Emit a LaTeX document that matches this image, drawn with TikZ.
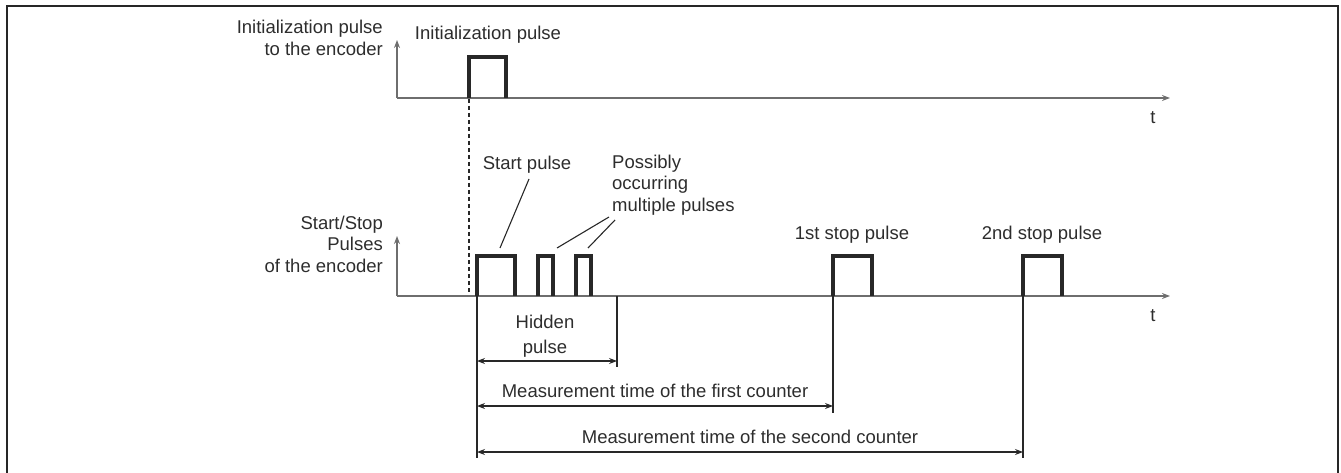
\documentclass[tikz,border=0pt]{standalone}
\usepackage{fontspec}
\setmainfont{Liberation Sans}
\usetikzlibrary{arrows.meta}
\definecolor{axisgray}{RGB}{110,110,110}
\definecolor{pulsedark}{RGB}{40,40,40}
\definecolor{txt}{RGB}{45,45,45}
\tikzset{
  axis/.style={draw=axisgray, line width=1.6pt, -{Stealth[length=8pt,width=6pt]}},
  pulse/.style={draw=pulsedark, line width=3.2pt, line join=miter},
  guide/.style={draw=pulsedark, line width=1.1pt},
  dim/.style={draw=pulsedark, line width=1.1pt, {Stealth[length=8pt,width=6pt]}-{Stealth[length=8pt,width=6pt]}},
  leader/.style={draw=pulsedark, line width=1.1pt},
  lbl/.style={inner sep=0pt, text=txt, font=\fontsize{18.5}{21.5}\selectfont},
}
\begin{document}
\begin{tikzpicture}[x=1pt,y=-1pt]
\useasboundingbox (0,0) rectangle (1341,473);
% frame
\draw[draw=black!85, line width=1.6pt] (7,473) -- (7,6) -- (1338,6) -- (1338,473);

% ---- upper diagram: initialization pulse
\coordinate (o1) at (397,98);
\coordinate (y1) at (397,40);
\coordinate (x1) at (1170,98);
\draw[axis] (o1) -- (y1);
\draw[axis] (o1) -- (x1);
\node[lbl] (t1) at (1153,118) {t};
\draw[pulse] (469,98) -- (469,57) -- (506,57) -- (506,98);
\node[lbl, align=right, anchor=east] (ylab1) at (383,38) {Initialization pulse\\to the encoder};
\node[lbl] (initlab) at (488,35) {Initialization pulse};
\coordinate (d1) at (469,99);
\coordinate (d2) at (469,296);
\draw[guide, dashed, dash pattern=on 4pt off 3pt] (d1) -- (d2);

% ---- lower diagram: start/stop pulses
\coordinate (o2) at (397,296);
\coordinate (y2) at (397,236);
\coordinate (x2) at (1170,296);
\draw[axis] (o2) -- (y2);
\draw[axis] (o2) -- (x2);
\node[lbl] (t2) at (1153,316) {t};
\node[lbl, align=right, anchor=east] (ylab2) at (383,244) {Start/Stop\\Pulses\\of the encoder};

\draw[pulse] (477,296) -- (477,256) -- (515,256) -- (515,296);
\draw[pulse] (538,296) -- (538,256) -- (553,256) -- (553,296);
\draw[pulse] (576,296) -- (576,256) -- (591,256) -- (591,296);
\draw[pulse] (833,296) -- (833,256) -- (872,256) -- (872,296);
\draw[pulse] (1023,296) -- (1023,256) -- (1062,256) -- (1062,296);

\node[lbl] (startlab) at (527,165) {Start pulse};
\node[lbl, align=left, anchor=west] (multlab) at (612,185) {Possibly\\occurring\\multiple pulses};
\node[lbl] (stop1lab) at (852,235) {1st stop pulse};
\node[lbl] (stop2lab) at (1042,235) {2nd stop pulse};

\coordinate (ls1) at (529,179);
\coordinate (ls2) at (500,248);
\draw[leader] (ls1) -- (ls2);
\coordinate (lm0) at (609,217);
\coordinate (lm1) at (557,248);
\coordinate (lm2) at (615,220);
\coordinate (lm3) at (588,248);
\draw[leader] (lm0) -- (lm1);
\draw[leader] (lm2) -- (lm3);

% extension lines
\draw[guide] (477,296) -- (477,458);
\draw[guide] (617,296) -- (617,367);
\draw[guide] (833,296) -- (833,413);
\draw[guide] (1023,296) -- (1023,458);

% dimension arrows
\coordinate (h0) at (477,361);
\coordinate (h1) at (617,361);
\draw[dim] (h0) -- (h1);
\node[lbl, align=center, font=\fontsize{18.5}{25}\selectfont] (hidlab) at (545,336) {Hidden\\pulse};
\coordinate (m0) at (477,406);
\coordinate (m1) at (833,406);
\draw[dim] (m0) -- (m1);
\node[lbl] (m1lab) at (655,391) {Measurement time of the first counter};
\coordinate (n0) at (477,452);
\coordinate (n1) at (1023,452);
\draw[dim] (n0) -- (n1);
\node[lbl] (m2lab) at (750,437) {Measurement time of the second counter};
\end{tikzpicture}
\end{document}
